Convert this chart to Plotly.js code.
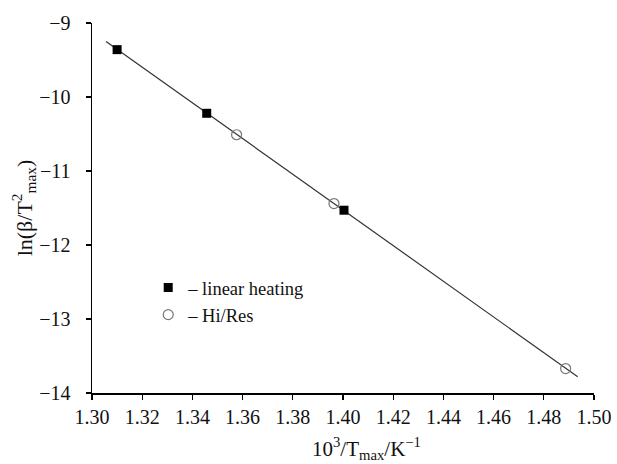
<!DOCTYPE html>
<html>
<head>
<meta charset="utf-8">
<script src="https://cdn.plot.ly/plotly-3.0.1.min.js"></script>
<style>html,body{margin:0;padding:0;background:#fff;}#chart{width:617px;height:464px;}</style>
</head>
<body>
<div id="chart"></div>
<script>
// Data
const linearX = [1.310, 1.3457, 1.4004];
const linearY = [-9.36, -10.22, -11.53];
const hiresX = [1.3576, 1.3964, 1.4887];
const hiresY = [-10.51, -11.44, -13.67];
const fitX = [1.3056, 1.4935];
const fitY = [-9.25, -13.78];
const xTicks = [1.30, 1.32, 1.34, 1.36, 1.38, 1.40, 1.42, 1.44, 1.46, 1.48, 1.50];
const yTicks = [-14, -13, -12, -11, -10, -9];

const font = 'Liberation Serif, Times New Roman, serif';

const traces = [
  {x: fitX, y: fitY, mode: 'lines', line: {color: '#333', width: 1.2}, showlegend: false, hoverinfo: 'skip'},
  {x: linearX, y: linearY, mode: 'markers', name: '– linear heating',
   marker: {symbol: 'square', size: 9, color: '#000', line: {color: '#000', width: 0}}},
  {x: hiresX, y: hiresY, mode: 'markers', name: '– Hi/Res',
   marker: {symbol: 'circle-open', size: 10, color: '#777', line: {color: '#777', width: 1.2}}}
];

const layout = {
  width: 617, height: 464,
  margin: {l: 92, r: 23, t: 23, b: 71},
  paper_bgcolor: '#fff', plot_bgcolor: '#fff',
  font: {family: font, color: '#111', size: 20},
  showlegend: true,
  legend: {x: 0.112, y: 0.335, xanchor: 'left', yanchor: 'top', bgcolor: 'rgba(0,0,0,0)',
           font: {family: font, size: 18.5, color: '#111'}, tracegroupgap: 0, itemwidth: 30},
  annotations: [
    {text: '10<sup>3</sup>/T<sub>max</sub>/K<sup>−1</sup>', xref: 'paper', yref: 'paper', x: 0.546, y: -0.105,
     xanchor: 'center', yanchor: 'top', showarrow: false, font: {family: font, size: 21, color: '#111'}}
  ],
  xaxis: {
    range: [1.30, 1.50], tickvals: xTicks, ticktext: xTicks.map(v => v.toFixed(2)),
    showline: true, linecolor: '#000', linewidth: 1.5, mirror: false,
    ticks: 'outside', ticklen: 5, tickwidth: 1.2, tickcolor: '#000',
    showgrid: false, zeroline: false,
    tickfont: {family: font, size: 20, color: '#111'}
  },
  yaxis: {
    range: [-14, -9], tickvals: yTicks, ticktext: yTicks.map(v => '−' + Math.abs(v)),
    showline: true, linecolor: '#000', linewidth: 1.5, mirror: false,
    ticks: 'outside', ticklen: 5, tickwidth: 1.2, tickcolor: '#000',
    showgrid: false, zeroline: false,
    ticklabelstandoff: 11,
    tickfont: {family: font, size: 20, color: '#111'},
    title: {text: 'ln(β/T<sup>2</sup><sub>max</sub>)', font: {family: font, size: 22, color: '#111'}, standoff: 0}
  }
};

Plotly.newPlot('chart', traces, layout, {displayModeBar: false, staticPlot: true});
</script>
</body>
</html>
